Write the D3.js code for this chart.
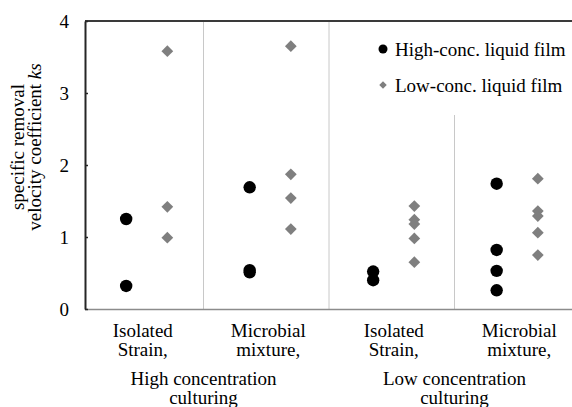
<!DOCTYPE html>
<html lang="en">
<head>
<meta charset="UTF-8">
<script src="https://cdn.jsdelivr.net/npm/d3@7"></script>
<style>
  body { margin: 0; background: #fff; }
  svg text { font-family: "Liberation Serif", "DejaVu Serif", serif; font-size: 19px; fill: #000; }
</style>
</head>
<body>
<div id="chart"></div>
<script>
// categories
var catLine1 = ["Isolated", "Microbial", "Isolated", "Microbial"];
var catLine2 = ["Strain,", "mixture,", "Strain,", "mixture,"];
var outerLabels = [["High concentration", "culturing"], ["Low concentration", "culturing"]];
var yTicks = [0, 1, 2, 3, 4];

// series values per category
var highConc = [[1.25, 0.32], [1.69, 0.54, 0.51], [0.52, 0.40], [1.74, 0.82, 0.53, 0.26]];
var lowConc = [[3.58, 1.42, 0.99], [3.65, 1.87, 1.54, 1.11], [1.43, 1.24, 1.18, 0.98, 0.65], [1.81, 1.36, 1.29, 1.06, 0.75]];

var seriesNames = ["High-conc. liquid film", "Low-conc. liquid film"];

var width = 572, height = 407;
var svg = d3.select("#chart").append("svg")
    .attr("width", width)
    .attr("height", height);

var plotLeft = 85, plotTop = 21, plotBottom = 309;

var y = d3.scaleLinear().domain([0, 4]).range([plotBottom, plotTop]);
// category bands (dividers, labels)
var xBand = d3.scaleBand().domain(d3.range(4)).range([78, 580]);
// marker positions
var xMark = d3.scaleLinear().domain([0, 4]).range([plotLeft, 579]);

// dividers
svg.selectAll(".divider")
    .data([1, 2, 3])
    .enter().append("line")
    .attr("x1", function (d) { return xBand(d); })
    .attr("x2", function (d) { return xBand(d); })
    .attr("y1", plotTop)
    .attr("y2", plotBottom)
    .attr("stroke", "#c8c8c8")
    .attr("stroke-width", 1);

// legend background hides the last divider top
svg.append("rect")
    .attr("x", 368).attr("y", plotTop + 1)
    .attr("width", 204).attr("height", 93)
    .attr("fill", "#fff");

// top line and bottom axis
svg.append("line")
    .attr("x1", plotLeft).attr("x2", width)
    .attr("y1", plotTop).attr("y2", plotTop)
    .attr("stroke", "#3a3a3a").attr("stroke-width", 2);
svg.append("line")
    .attr("x1", plotLeft).attr("x2", width)
    .attr("y1", plotBottom + 0.5).attr("y2", plotBottom + 0.5)
    .attr("stroke", "#8c8c8c").attr("stroke-width", 1.5);

// y axis
var yAxis = d3.axisRight(y).tickValues(yTicks).tickSize(3).tickSizeOuter(0).tickFormat("");
var ya = svg.append("g").attr("transform", "translate(" + plotLeft + ",0)").call(yAxis);
ya.select(".domain").attr("stroke", "#262626").attr("stroke-width", 2);
ya.selectAll(".tick line").attr("stroke", "#262626").attr("stroke-width", 1.5);

svg.selectAll(".ylab")
    .data(yTicks)
    .enter().append("text")
    .attr("x", 69)
    .attr("y", function (d) { return y(d); })
    .attr("dy", "0.35em")
    .attr("text-anchor", "end")
    .text(function (d) { return d; });

// y title
var yt = svg.append("text")
    .attr("transform", "translate(17,147) rotate(-90)")
    .attr("text-anchor", "middle");
yt.append("tspan").attr("x", 0).attr("dy", "0.35em").text("specific removal");
var yt2 = svg.append("text")
    .attr("transform", "translate(34,147) rotate(-90)")
    .attr("text-anchor", "middle");
yt2.append("tspan").attr("dy", "0.35em").text("velocity coefficient ");
yt2.append("tspan").attr("font-style", "italic").text("ks");

// category labels
svg.selectAll(".cat1")
    .data(catLine1)
    .enter().append("text")
    .attr("x", function (d, i) { return xBand(i) + xBand.bandwidth() / 2 + 2; })
    .attr("y", 337)
    .attr("text-anchor", "middle")
    .text(function (d) { return d; });
svg.selectAll(".cat2")
    .data(catLine2)
    .enter().append("text")
    .attr("x", function (d, i) { return xBand(i) + xBand.bandwidth() / 2 + 2; })
    .attr("y", 356)
    .attr("text-anchor", "middle")
    .text(function (d) { return d; });

outerLabels.forEach(function (lines, k) {
    var cx = xBand(k * 2 + 1);
    lines.forEach(function (s, j) {
        svg.append("text")
            .attr("x", cx)
            .attr("y", 385 + j * 19)
            .attr("text-anchor", "middle")
            .text(s);
    });
});

// markers
var diamond = d3.symbol().type(d3.symbolDiamond2).size(88);

highConc.forEach(function (vals, i) {
    svg.selectAll(null)
        .data(vals)
        .enter().append("circle")
        .attr("cx", xMark(i + 1 / 3))
        .attr("cy", function (d) { return y(d); })
        .attr("r", 6.2)
        .attr("fill", "#000");
});

lowConc.forEach(function (vals, i) {
    svg.selectAll(null)
        .data(vals)
        .enter().append("path")
        .attr("d", diamond)
        .attr("transform", function (d) { return "translate(" + xMark(i + 2 / 3) + "," + y(d) + ")"; })
        .attr("fill", "#7f7f7f");
});

// legend
var lg = svg.append("g");
lg.append("circle").attr("cx", 383).attr("cy", 49).attr("r", 4.5).attr("fill", "#000");
lg.append("path").attr("d", d3.symbol().type(d3.symbolDiamond2).size(36))
    .attr("transform", "translate(383,85)").attr("fill", "#7f7f7f");
lg.selectAll(".lt")
    .data(seriesNames)
    .enter().append("text")
    .attr("x", 395)
    .attr("y", function (d, i) { return 49 + i * 36; })
    .attr("dy", "0.35em")
    .text(function (d) { return d; });
</script>
</body>
</html>
